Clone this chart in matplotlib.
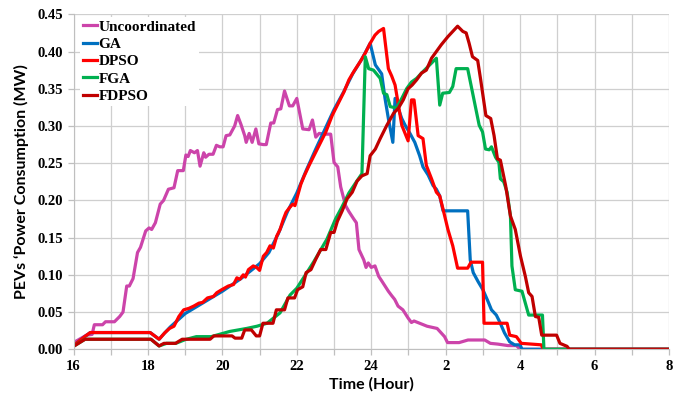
import matplotlib
matplotlib.use("Agg")
import matplotlib.pyplot as plt
from matplotlib.ticker import MultipleLocator, FormatStrFormatter

# hours from 16:00 to 08:00 next day, written as 16..32
unc_t = [16.0, 16.35, 16.5, 16.56, 16.78, 16.86, 17.1, 17.24, 17.33, 17.43, 17.5, 17.6, 17.72, 17.8,
         17.94, 18.03, 18.1, 18.2, 18.33, 18.42, 18.55, 18.7, 18.8, 18.95, 19.02, 19.08, 19.14, 19.25,
         19.33, 19.4, 19.5, 19.55, 19.64, 19.75, 19.84, 19.93, 20.02, 20.1, 20.2, 20.33, 20.41, 20.5,
         20.6, 20.64, 20.72, 20.8, 20.9, 20.98, 21.1, 21.18, 21.3, 21.38, 21.48, 21.57, 21.67, 21.8,
         21.89, 22.0, 22.16, 22.33, 22.42, 22.51, 22.6, 22.78, 22.91, 23.0, 23.1, 23.18, 23.31, 23.4,
         23.53, 23.6, 23.67, 23.8, 23.86, 23.92, 24.0, 24.1, 24.2, 24.28, 24.37, 24.46, 24.55, 24.63,
         24.72, 24.85, 24.99, 25.08, 25.15, 25.3, 25.4, 25.5, 25.77, 25.97, 26.05, 26.36, 26.6, 27.05,
         27.2, 27.4, 27.67, 27.9, 28.0, 32.0]
unc_p = [0.009, 0.019, 0.02, 0.033, 0.033, 0.037, 0.037, 0.044, 0.05, 0.085, 0.085, 0.095, 0.13, 0.137,
         0.159, 0.163, 0.161, 0.17, 0.195, 0.2, 0.215, 0.217, 0.24, 0.24, 0.261, 0.259, 0.267, 0.264,
         0.267, 0.246, 0.264, 0.258, 0.262, 0.262, 0.274, 0.272, 0.272, 0.287, 0.288, 0.30, 0.314, 0.302,
         0.287, 0.278, 0.29, 0.278, 0.296, 0.276, 0.275, 0.275, 0.304, 0.304, 0.322, 0.323, 0.347, 0.327,
         0.327, 0.337, 0.296, 0.295, 0.308, 0.285, 0.29, 0.289, 0.289, 0.251, 0.245, 0.218, 0.193, 0.185,
         0.175, 0.17, 0.134, 0.12, 0.11, 0.116, 0.11, 0.112, 0.098, 0.092, 0.085, 0.078, 0.072, 0.067,
         0.058, 0.053, 0.042, 0.036, 0.038, 0.035, 0.033, 0.031, 0.028, 0.017, 0.009, 0.009, 0.0125, 0.0125,
         0.008, 0.007, 0.005, 0.005, 0.0, 0.0]

ga_t = [16.0, 16.3, 16.45, 18.06, 18.3, 18.45, 18.6, 19.0, 19.5, 20.0, 20.5, 21.0, 21.25, 21.5, 21.75,
        22.0, 22.25, 22.5, 22.75, 23.0, 23.25, 23.5, 23.75, 23.97, 24.11, 24.28, 24.37, 24.46, 24.58,
        24.64, 24.73, 24.82, 24.91, 25.04, 25.17, 25.3, 25.39, 25.53, 25.66, 25.75, 25.84, 25.93, 26.59,
        26.66, 26.74, 26.87, 27.0, 27.14, 27.23, 27.36, 27.45, 27.58, 27.72, 27.85, 28.0, 28.05, 32.0]
ga_p = [0.005, 0.017, 0.0225, 0.0225, 0.0135, 0.022, 0.03, 0.048, 0.063, 0.078, 0.095, 0.115, 0.13, 0.155,
        0.185, 0.21, 0.24, 0.268, 0.295, 0.322, 0.345, 0.37, 0.39, 0.411, 0.382, 0.37, 0.337, 0.31, 0.278,
        0.337, 0.323, 0.31, 0.301, 0.29, 0.278, 0.26, 0.245, 0.234, 0.22, 0.215, 0.206, 0.186, 0.186,
        0.12, 0.103, 0.091, 0.08, 0.064, 0.053, 0.046, 0.037, 0.022, 0.01, 0.006, 0.006, 0.0, 0.0]

dpso_t = [16.0, 16.3, 16.45, 18.06, 18.3, 18.45, 18.58, 18.7, 18.83, 18.96, 19.1, 19.23, 19.37, 19.47,
          19.6, 19.76, 19.85, 19.98, 20.16, 20.3, 20.39, 20.47, 20.56, 20.62, 20.7, 20.83, 20.92, 21.0,
          21.1, 21.19, 21.28, 21.37, 21.46, 21.55, 21.64, 21.71, 21.8, 21.89, 21.95, 22.02, 22.11, 22.2,
          22.33, 22.51, 22.64, 22.78, 22.95, 23.13, 23.27, 23.4, 23.53, 23.71, 23.84, 23.97, 24.1, 24.2,
          24.33, 24.46, 24.55, 24.64, 24.73, 24.82, 24.99, 25.08, 25.15, 25.26, 25.39, 25.48, 25.62, 25.75,
          25.84, 25.93, 26.06, 26.19, 26.32, 26.59, 26.68, 26.99, 27.03, 27.65, 27.72, 27.9, 28.03, 28.57,
          28.62, 32.0]
dpso_p = [0.005, 0.017, 0.0225, 0.0225, 0.0135, 0.022, 0.028, 0.031, 0.044, 0.053, 0.055, 0.058, 0.062,
          0.063, 0.069, 0.071, 0.076, 0.08, 0.085, 0.087, 0.096, 0.094, 0.1, 0.097, 0.107, 0.112, 0.11,
          0.106, 0.125, 0.13, 0.139, 0.136, 0.152, 0.161, 0.175, 0.184, 0.19, 0.195, 0.193, 0.206, 0.222,
          0.233, 0.247, 0.265, 0.278, 0.292, 0.314, 0.332, 0.346, 0.362, 0.373, 0.387, 0.398, 0.411, 0.422,
          0.427, 0.431, 0.377, 0.367, 0.355, 0.328, 0.301, 0.28, 0.335, 0.335, 0.287, 0.283, 0.247, 0.229,
          0.211, 0.206, 0.188, 0.161, 0.139, 0.109, 0.109, 0.117, 0.117, 0.035, 0.035, 0.019, 0.017, 0.008,
          0.006, 0.0, 0.0]

fga_t = [16.0, 16.31, 18.08, 18.3, 18.5, 18.75, 19.0, 19.3, 19.7, 20.2, 20.65, 20.93, 21.2, 21.55, 21.82,
         22.0, 22.27, 22.46, 22.81, 23.04, 23.2, 23.4, 23.6, 23.75, 23.84, 23.93, 24.06, 24.24, 24.33,
         24.42, 24.51, 24.68, 24.82, 24.95, 25.08, 25.22, 25.35, 25.53, 25.75, 25.84, 25.92, 26.1, 26.19,
         26.28, 26.59, 26.68, 26.81, 26.9, 26.99, 27.07, 27.17, 27.23, 27.34, 27.43, 27.47, 27.56, 27.65,
         27.74, 27.78, 27.87, 28.05, 28.14, 28.23, 28.6, 28.64, 32.0]
fga_p = [0.004, 0.0135, 0.0135, 0.0045, 0.008, 0.008, 0.013, 0.017, 0.017, 0.024, 0.028, 0.031, 0.035,
         0.049, 0.073, 0.082, 0.103, 0.118, 0.148, 0.175, 0.19, 0.21, 0.225, 0.236, 0.393, 0.377, 0.375,
         0.364, 0.344, 0.342, 0.326, 0.324, 0.337, 0.35, 0.359, 0.364, 0.371, 0.38, 0.391, 0.328, 0.344,
         0.345, 0.353, 0.377, 0.377, 0.355, 0.323, 0.301, 0.292, 0.269, 0.268, 0.272, 0.258, 0.251, 0.229,
         0.225, 0.211, 0.179, 0.112, 0.08, 0.078, 0.062, 0.046, 0.046, 0.0, 0.0]

fdpso_t = [16.0, 16.31, 18.08, 18.3, 18.43, 18.74, 18.92, 19.67, 19.77, 20.26, 20.34, 20.52, 20.6, 20.78,
           20.91, 21.0, 21.09, 21.36, 21.45, 21.67, 21.76, 21.94, 22.02, 22.16, 22.25, 22.38, 22.51, 22.64,
           22.78, 22.91, 23.0, 23.09, 23.22, 23.35, 23.49, 23.62, 23.75, 23.89, 23.97, 24.11, 24.24, 24.42,
           24.6, 24.73, 24.86, 24.99, 25.1, 25.22, 25.35, 25.48, 25.62, 25.75, 25.88, 26.06, 26.19, 26.32,
           26.46, 26.55, 26.63, 26.72, 26.86, 26.94, 27.08, 27.21, 27.3, 27.39, 27.47, 27.61, 27.74, 27.87,
           28.01, 28.14, 28.23, 28.32, 28.41, 28.5, 28.58, 28.98, 29.07, 29.26, 29.32, 32.0]
fdpso_p = [0.004, 0.0135, 0.0135, 0.0045, 0.008, 0.008, 0.0135, 0.0135, 0.018, 0.018, 0.015, 0.015, 0.026,
           0.026, 0.018, 0.018, 0.035, 0.035, 0.053, 0.053, 0.069, 0.069, 0.08, 0.084, 0.103, 0.107, 0.121,
           0.134, 0.134, 0.157, 0.157, 0.172, 0.186, 0.202, 0.211, 0.226, 0.233, 0.236, 0.26, 0.269, 0.283,
           0.301, 0.317, 0.324, 0.335, 0.35, 0.355, 0.362, 0.371, 0.375, 0.391, 0.4, 0.409, 0.42, 0.427,
           0.434, 0.427, 0.425, 0.411, 0.393, 0.388, 0.362, 0.314, 0.31, 0.287, 0.256, 0.254, 0.22, 0.179,
           0.161, 0.125, 0.098, 0.076, 0.071, 0.044, 0.043, 0.019, 0.019, 0.008, 0.004, 0.0, 0.0]

hour_ticks = [16, 18, 20, 22, 24, 26, 28, 30, 32]
hour_labels = ['16', '18', '20', '22', '24', '2', '4', '6', '8']

serif = 'Liberation Serif'
sans = 'Lato'

fig = plt.figure(figsize=(6.75, 3.93), dpi=100)
ax = fig.add_axes([73.5 / 675, 1 - 349.3 / 393, 595.5 / 675, 335 / 393])

lw = 2.3
ax.plot(unc_t, unc_p, color='#CC44AA', lw=lw, label='Uncoordinated')
ax.plot(ga_t, ga_p, color='#0070C0', lw=lw, label='GA')
ax.plot(dpso_t, dpso_p, color='#FF0000', lw=lw, label='DPSO')
ax.plot(fga_t, fga_p, color='#00B050', lw=lw, label='FGA')
ax.plot(fdpso_t, fdpso_p, color='#C00000', lw=lw, label='FDPSO')

ax.set_xlim(16, 32)
ax.set_ylim(0, 0.45)
ax.set_xticks(hour_ticks)
ax.set_xticklabels(hour_labels)
ax.xaxis.set_minor_locator(MultipleLocator(1))
ax.yaxis.set_major_locator(MultipleLocator(0.05))
ax.yaxis.set_major_formatter(FormatStrFormatter('%.2f'))

ax.grid(True, which='both', color='#cfcfcf', lw=0.9)
ax.set_axisbelow(True)
for s in ['top', 'right']:
    ax.spines[s].set_visible(False)
for s in ['left', 'bottom']:
    ax.spines[s].set_color('#bfbfbf')
ax.tick_params(axis='both', which='both', color='#bfbfbf', length=4, width=0.9)
ax.tick_params(axis='x', which='minor', length=4)

for lab in ax.get_xticklabels() + ax.get_yticklabels():
    lab.set_fontfamily(serif)
    lab.set_fontweight('bold')
    lab.set_fontsize(10.5)

ax.set_xlabel('Time (Hour)', fontfamily=sans, fontweight='bold', fontsize=11.5, labelpad=3)
ax.set_ylabel('PEVs \u2018Power Consumption (MW)', fontfamily=sans, fontweight='bold', fontsize=11.5,
              labelpad=6)

leg = ax.legend(loc='upper left', bbox_to_anchor=(0.011, 0.992), borderaxespad=0, frameon=True,
                fancybox=False, edgecolor='none', facecolor='white', framealpha=1, handlelength=0.9,
                handletextpad=0.1, labelspacing=0.24, borderpad=0.2,
                prop={'family': serif, 'weight': 'bold', 'size': 11})
for h in leg.get_lines():
    h.set_linewidth(2.3)

fig.savefig('out.png', dpi=100)
